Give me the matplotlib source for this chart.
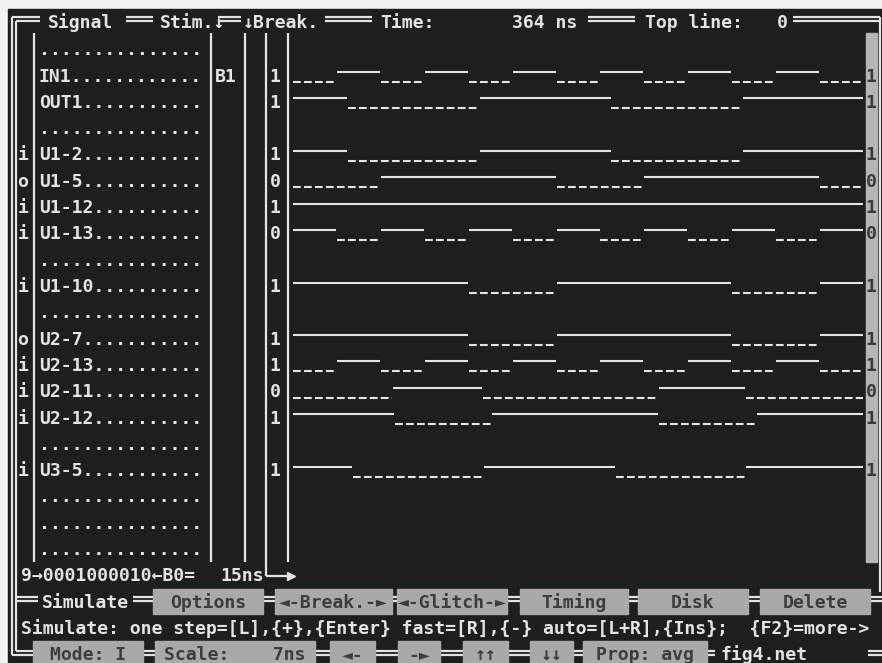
import matplotlib
matplotlib.use("Agg")
import matplotlib.pyplot as plt
from matplotlib.patches import Rectangle

# ---------------- data ----------------
# signal list rows 1..20 of the screen ('' = empty dotted slot)
row_names = ['', 'IN1', 'OUT1', '', 'U1-2', 'U1-5', 'U1-12', 'U1-13', '',
             'U1-10', '', 'U2-7', 'U2-13', 'U2-11', 'U2-12', '', 'U3-5',
             '', '', '']
row_io = ['', '', '', '', 'i', 'o', 'i', 'i', '', 'i', '', 'o', 'i', 'i',
          'i', '', 'i', '', '', '']
row_stim = ['', 'B1', '', '', '', '', '', '', '', '', '', '', '', '', '',
            '', '', '', '', '']
row_value = ['', '1', '1', '', '1', '0', '1', '0', '', '1', '', '1', '1',
             '0', '1', '', '1', '', '', '']

time_total_ns = 364
# waveforms: initial level and toggle times (ns)
IN1_start, IN1_edges = 0, [28, 56, 84, 112, 140, 168, 196, 224, 252, 280, 308, 336]
OUT1_start, OUT1_edges = 1, [35, 119, 203, 287]
U1_2_start, U1_2_edges = 1, [35, 119, 203, 287]
U1_5_start, U1_5_edges = 0, [56, 168, 224, 336]
U1_12_start, U1_12_edges = 1, []
U1_13_start, U1_13_edges = 1, [28, 56, 84, 112, 140, 168, 196, 224, 252, 280, 308, 336]
U1_10_start, U1_10_edges = 1, [112, 168, 280, 336]
U2_7_start, U2_7_edges = 1, [112, 168, 280, 336]
U2_13_start, U2_13_edges = 0, [28, 56, 84, 112, 140, 168, 196, 224, 252, 280, 308, 336]
U2_11_start, U2_11_edges = 0, [64, 121, 233, 289]
U2_12_start, U2_12_edges = 1, [65, 127, 233, 296]
U3_5_start, U3_5_edges = 1, [38, 122, 206, 289]

waves = {
    'IN1': (IN1_start, IN1_edges), 'OUT1': (OUT1_start, OUT1_edges),
    'U1-2': (U1_2_start, U1_2_edges), 'U1-5': (U1_5_start, U1_5_edges),
    'U1-12': (U1_12_start, U1_12_edges), 'U1-13': (U1_13_start, U1_13_edges),
    'U1-10': (U1_10_start, U1_10_edges), 'U2-7': (U2_7_start, U2_7_edges),
    'U2-13': (U2_13_start, U2_13_edges), 'U2-11': (U2_11_start, U2_11_edges),
    'U2-12': (U2_12_start, U2_12_edges), 'U3-5': (U3_5_start, U3_5_edges),
}

title_texts = ['Signal', 'Stim.↓', '↓Break.', 'Time:', '364 ns', 'Top line:', '0']
status_text = '9→0001000010←B0='
delay_text = '15ns'
menu_title = 'Simulate'
menu_items = ['Options', '◄-Break.-►', '◄-Glitch-►', 'Timing', 'Disk', 'Delete']
help_text = 'Simulate: one step=[L],{+},{Enter} fast=[R],{-} auto=[L+R],{Ins};  {F2}=more->'
bottom_items = ['Mode: I', 'Scale:    7ns', '◄-', '-►', '↑↑', '↓↓', 'Prop: avg']
file_name = 'fig4.net'

# ---------------- style ----------------
W, H = 882, 663
BG = '#1b201d'
FG = '#e4e4e2'
BTN = '#a9a9a7'
BTN_TXT = '#3c3c3c'
FONT = ['DejaVu Sans Mono', 'DejaVu Sans']
FS = 13.1
plt.rcParams['lines.scale_dashes'] = False


def ry(r):
    return 22 + 26.3 * r


fig = plt.figure(figsize=(W / 100, H / 100), dpi=100)
fig.patch.set_facecolor('#f2f2f0')
ax = fig.add_axes([0, 0, 1, 1])
ax.set_xlim(0, W)
ax.set_ylim(H, 0)
ax.axis('off')
ax.add_patch(Rectangle((8, 9), W - 8, H - 9, color=BG, zorder=0))


def txt(x, r, s, color=FG, ha='left', weight='bold', dy=7):
    ax.text(x, ry(r) + dy, s, color=color, ha=ha, va='baseline',
            fontsize=FS, family=FONT, fontweight=weight, zorder=5)


def hline(x0, x1, y, lw=1.6, color=FG):
    ax.plot([x0, x1], [y, y], color=color, lw=lw, solid_capstyle='butt', zorder=3)


def vline(x, y0, y1, lw=1.6, color=FG):
    ax.plot([x, x], [y0, y1], color=color, lw=lw, solid_capstyle='butt', zorder=3)


def dbl(x0, x1, yc):
    hline(x0, x1, yc - 2)
    hline(x0, x1, yc + 2)


# ---- frame ----
vline(12, 17, 655)
vline(16, 21, 651)
hline(12, 40, 17)
hline(16, 40, 21)
vline(880, 17, 592)

# title row
for x0, x1 in [(126, 153), (218, 241), (325, 372), (588, 635), (793, 880)]:
    dbl(x0, x1, 19)
for x, s in zip([48, 160, 243, 380, 512, 645, 777], title_texts):
    txt(x, 0, s, dy=6)

# column separators
for x in [34, 211, 245, 288]:
    vline(x, 33, 562)
vline(266, 33, 576)
hline(266, 289, 576)
ax.plot([291], [576], marker='>', ms=6, color=FG, mec=FG, zorder=4)

# scrollbar
ax.add_patch(Rectangle((866, 33), 11, 529, color='#b6b6b4', zorder=2))

# signal rows
for i, name in enumerate(row_names):
    r = i + 1
    txt(39, r, (name).ljust(15, '.'))
    if row_io[i]:
        txt(23, r, row_io[i], ha='center')
    if row_stim[i]:
        txt(215, r, row_stim[i])
    if row_value[i]:
        txt(275, r, row_value[i], ha='center')
        txt(871, r, row_value[i], ha='center', color='#3a3a3a')

# waveform axes: time in ns horizontally
wax = fig.add_axes([293 / W, 0, (864 - 293) / W, 1])
wax.set_xlim(0, time_total_ns)
wax.set_ylim(H, 0)
wax.axis('off')
wax.patch.set_alpha(0)
for i, name in enumerate(row_names):
    if name in waves:
        start, edges = waves[name]
        yc = ry(i + 1)
        ts = [0] + edges + [time_total_ns]
        lev = start
        for a, b in zip(ts[:-1], ts[1:]):
            if lev:
                wax.plot([a, b - 0.6], [yc - 2.5] * 2, color=FG, lw=1.5,
                         solid_capstyle='butt')
            else:
                wax.plot([a, b - 0.6], [yc + 7.5] * 2, color=FG, lw=1.5,
                         dashes=(5.6, 2.3), dash_capstyle='butt')
            lev = 1 - lev

# status row 21
txt(21, 21, status_text)
txt(220, 21, delay_text)

# menu row 22
y22 = ry(22)
dbl(16, 38, y22 - 2)
dbl(133, W, y22 - 2)
txt(42, 22, menu_title)
for (x0, x1), s in zip([(153, 263), (275, 392), (397, 507), (520, 628),
                        (638, 748), (760, 870)], menu_items):
    ax.add_patch(Rectangle((x0, y22 - 12), x1 - x0, 25, color=BTN, zorder=4))
    txt((x0 + x1) / 2, 22, s, color=BTN_TXT, ha='center')

# help row 23
txt(21, 23, help_text)

# bottom row 24
y24 = ry(24)
hline(12, 33, 655)
hline(16, 33, 651)
dbl(143, 715, 653)
dbl(868, W, 653)
for (x0, x1), s in zip([(33, 143), (155, 315), (330, 375), (398, 440),
                        (463, 508), (530, 573), (583, 707)], bottom_items):
    ax.add_patch(Rectangle((x0, y24 - 12), x1 - x0, 26, color=BTN, zorder=4))
    txt((x0 + x1) / 2, 24, s, color=BTN_TXT, ha='center')
txt(720, 24, file_name)

fig.savefig('out.png', dpi=100, facecolor=fig.get_facecolor())
